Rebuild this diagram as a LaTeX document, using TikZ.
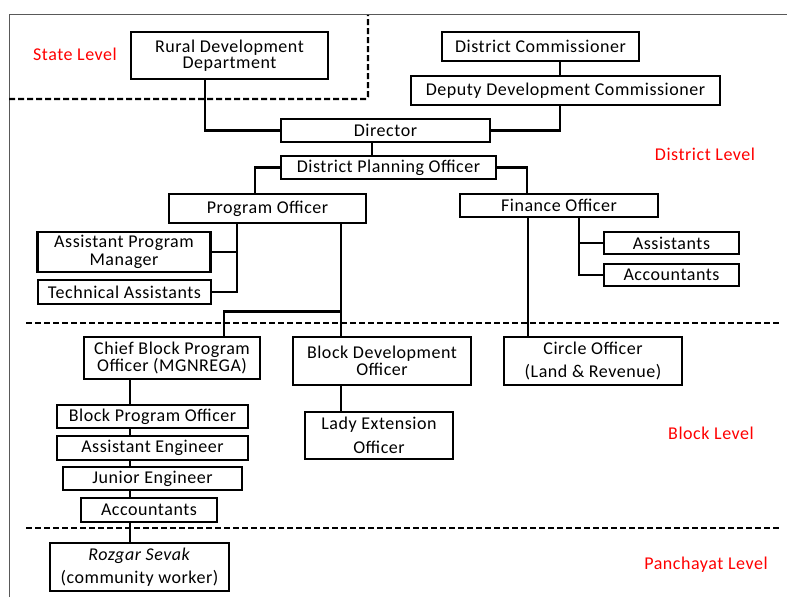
\documentclass[tikz,border=0pt]{standalone}
\usepackage{fontspec}
\setmainfont[LetterSpace=3]{Carlito}
\begin{document}
\begin{tikzpicture}[x=1pt,y=-1pt,line width=2.9pt,font=\fontsize{18}{16.5}\selectfont]
\useasboundingbox (0,0) rectangle (787,599);

% outer frame and level separators
\draw[line width=1pt,black!65] (9,597) -- (9,15) -- (787,15);
\begin{scope}[line width=2.2pt,dash pattern=on 6pt off 3pt]
\draw[rounded corners=2pt] (9,99) -- (368,99) -- (368,15);
\draw (26,323) -- (780,323);
\draw (26,528) -- (780,528);
\end{scope}

\begin{scope}[every node/.style={text=red}]
\node (state) at (75,54) {State Level};
\node (district) at (705,154) {District Level};
\node (block) at (711,433) {Block Level};
\node (panchayat) at (706,565) {Panchayat Level};
\end{scope}

\begin{scope}[every node/.style={draw,line width=2.7pt,inner sep=0pt,align=center}]
\node (rdd) at (229.5,55.5) [minimum width=197,minimum height=47]{Rural Development\\Department};
\node (dc) at (540.5,46.5) [minimum width=197,minimum height=29]{District Commissioner};
\node (ddc) at (565.5,90.5) [minimum width=309,minimum height=29]{Deputy Development Commissioner};
\node (dir) at (385.5,130.5) [minimum width=209,minimum height=23]{Director};
\node (dpo) at (388.5,167.5) [minimum width=215,minimum height=23]{District Planning Officer};
\node (po) at (267.5,208.5) [minimum width=197,minimum height=29]{Program Officer};
\node (fo) at (559,205.5) [minimum width=198,minimum height=23]{Finance Officer};
\node (apm) at (124,252) [minimum width=173,minimum height=40]{Assistant Program\\[2pt]Manager};
\node (ta) at (124.5,292) [minimum width=173,minimum height=24]{Technical Assistants};
\node (asst) at (671.5,243) [minimum width=135,minimum height=22]{Assistants};
\node (acc1) at (671.5,275) [minimum width=135,minimum height=22]{Accountants};
\node (cbpo) at (172,358) [minimum width=176,minimum height=42]{Chief Block Program\\Officer (MGNREGA)};
\node (bdo) at (382,361) [minimum width=178,minimum height=48]{Block Development\\Officer};
\node (co) at (593,361) [minimum width=178,minimum height=48]{Circle Officer\\[7pt](Land \& Revenue)};
\node (lady) at (379,435.5) [minimum width=148,minimum height=47]{Lady Extension\\[7pt]Officer};
\node (bpo) at (152.5,416.5) [minimum width=191,minimum height=23]{Block Program Officer};
\node (ae) at (152.5,448) [minimum width=191,minimum height=24]{Assistant Engineer};
\node (je) at (152.5,478.5) [minimum width=179,minimum height=23]{Junior Engineer};
\node (acc2) at (149,510) [minimum width=136,minimum height=24]{Accountants};
\node (rs) at (139.5,567) [minimum width=179,minimum height=48]{\textit{Rozgar Sevak}\\[7pt](community worker)};
\end{scope}

% district level links
\draw ([xshift=-24.5pt]rdd.south) |- (dir.west);
\draw ([xshift=19.5pt]dc.south) -- ([xshift=-5.5pt]ddc.north);
\draw ([xshift=-5.5pt]ddc.south) |- (dir.east);
\draw ([xshift=-13.5pt]dir.south) -- ([xshift=-16.5pt]dpo.north);
\draw (dpo.west) -| ([xshift=-12.5pt]po.north);
\draw (dpo.east) -| ([xshift=-32pt]fo.north);

\coordinate (pospine) at ([xshift=-30.5pt]po.south);
\draw (pospine) |- (ta.east);
\draw (apm.east) -- (apm.east -| pospine);

\coordinate (fospine) at ([xshift=20pt]fo.south);
\draw (fospine) |- (acc1.west);
\draw (asst.west) -- (asst.west -| fospine);

% down to the block level
\draw ([xshift=73.5pt]po.south) -- ([xshift=-41pt]bdo.north);
\draw ([xshift=52pt]cbpo.north) -- ++(0,-24) -| ([xshift=-41pt]bdo.north);
\draw ([xshift=-31pt]fo.south) -- ([xshift=-65pt]co.north);
\draw ([xshift=-41pt]bdo.south) -- ([xshift=-38pt]lady.north);

\coordinate (chain) at (130,0);
\foreach \a/\b in {cbpo/bpo,bpo/ae,ae/je,je/acc2,acc2/rs}
  \draw (\a.south -| chain) -- (\b.north -| chain);
\end{tikzpicture}
\end{document}
